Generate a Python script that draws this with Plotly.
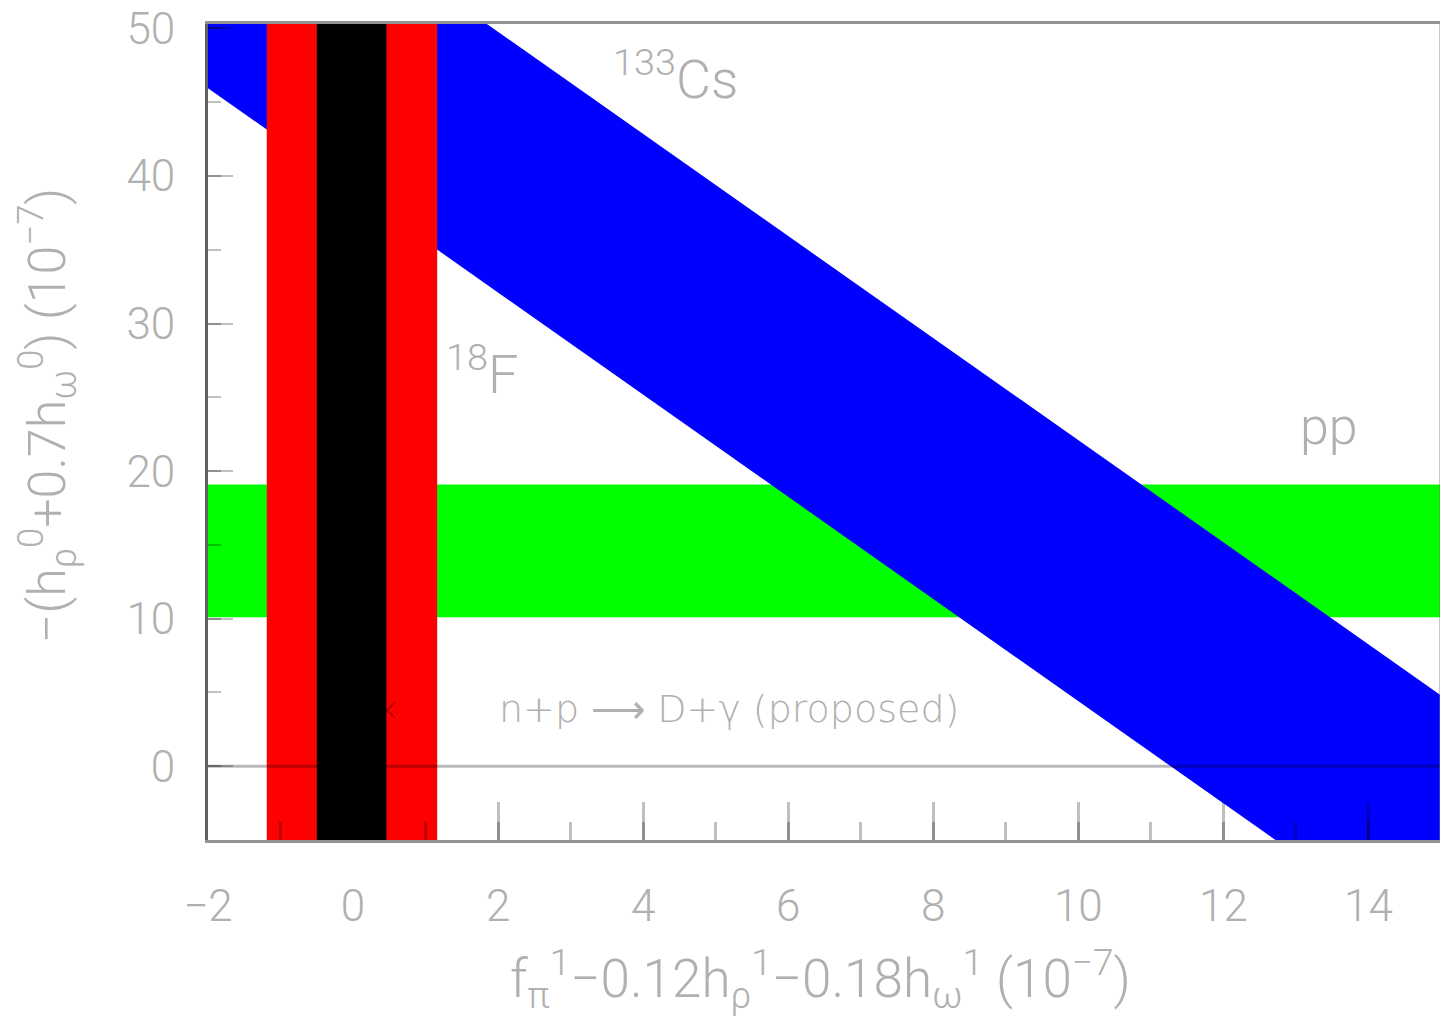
import plotly.graph_objects as go

# ---- data ----
x_range = [-2, 15]
y_range = [-5, 50.3]

# 133Cs band: two parallel lines, evaluated at the x-range ends
cs_x = [-2, 15]
cs_upper = [63.6, 4.8]
cs_lower = [45.95, -12.9]

# pp band (horizontal)
pp_low, pp_high = 10.1, 19.1

# 18F band (vertical) : outer (red) and inner (black)
f18_outer = [-1.19, 1.16]
f18_inner = [-0.50, 0.46]

# proposed n+p -> D+gamma marker
np_point_x = [0.47]
np_point_y = [3.8]

zero_y = 0

x_tick_vals = [-2, 0, 2, 4, 6, 8, 10, 12, 14]
y_tick_vals = [0, 10, 20, 30, 40, 50]

labels = [
    dict(text="<sup>133</sup>Cs", x=4.45, y=46.8, size=54, font="Roboto"),
    dict(text="<sup>18</sup>F", x=1.78, y=26.8, size=54, font="Roboto"),
    dict(text="pp", x=13.45, y=23.0, size=52, font="Roboto"),
    dict(text="n+p \u27f6 D+\u03b3 (proposed)", x=5.18, y=3.9, size=38, font="DejaVu Sans"),
]

TXT = "#b0b0b0"
FONT = "Roboto"

fig = go.Figure()

# green pp band
fig.add_trace(go.Scatter(
    x=[x_range[0], x_range[1], x_range[1], x_range[0]],
    y=[pp_low, pp_low, pp_high, pp_high],
    fill="toself", fillcolor="#00ff00", line=dict(width=0), mode="lines",
    hoverinfo="skip", showlegend=False))

# blue Cs band
fig.add_trace(go.Scatter(
    x=cs_x + cs_x[::-1],
    y=cs_upper + cs_lower[::-1],
    fill="toself", fillcolor="#0000ff", line=dict(width=0), mode="lines",
    hoverinfo="skip", showlegend=False))

# red outer 18F band
fig.add_trace(go.Scatter(
    x=[f18_outer[0], f18_outer[1], f18_outer[1], f18_outer[0]],
    y=[-100, -100, 200, 200],
    fill="toself", fillcolor="#ff0000", line=dict(width=0), mode="lines",
    hoverinfo="skip", showlegend=False))

# proposed point (partly hidden under black band)
fig.add_trace(go.Scatter(
    x=np_point_x, y=np_point_y, mode="markers",
    marker=dict(symbol="x-thin", size=16, line=dict(width=2, color="rgba(0,0,0,0.3)")),
    hoverinfo="skip", showlegend=False))

# black inner band
fig.add_trace(go.Scatter(
    x=[f18_inner[0], f18_inner[1], f18_inner[1], f18_inner[0]],
    y=[-100, -100, 200, 200],
    fill="toself", fillcolor="#000000", line=dict(width=0), mode="lines",
    hoverinfo="skip", showlegend=False))

# zero line
fig.add_trace(go.Scatter(
    x=x_range, y=[zero_y, zero_y], mode="lines",
    line=dict(color="rgba(0,0,0,0.27)", width=3),
    hoverinfo="skip", showlegend=False))

for lb in labels:
    fig.add_annotation(x=lb["x"], y=lb["y"], xref="x", yref="y", text=lb["text"],
                       showarrow=False, font=dict(family=lb["font"], size=lb["size"], color=TXT, weight=300))

# axis titles
fig.add_annotation(
    text="f<sub>\u03c0</sub><sup>1</sup>\u22120.12h<sub>\u03c1</sub><sup>1</sup>\u22120.18h<sub>\u03c9</sub><sup>1</sup> (10<sup>\u22127</sup>)",
    x=0.497, y=-0.170, xref="paper", yref="paper", xanchor="center", yanchor="middle",
    showarrow=False, font=dict(family=FONT, size=53, color=TXT, weight=300))
fig.add_annotation(
    text="\u2212(h<sub>\u03c1</sub><sup>0</sup>+0.7h<sub>\u03c9</sub><sup>0</sup>) (10<sup>\u22127</sup>)",
    x=-0.131, y=0.52, xref="paper", yref="paper", xanchor="center", yanchor="middle",
    textangle=-90, showarrow=False, font=dict(family=FONT, size=52, color=TXT, weight=300))

# right border
fig.add_shape(type="line", xref="paper", yref="paper", x0=1, x1=1, y0=0, y1=1,
              line=dict(color="rgba(120,120,120,0.8)", width=3), layer="above")

fig.update_xaxes(
    range=x_range, showgrid=False, zeroline=False,
    showline=True, linecolor="rgba(120,120,120,0.8)", linewidth=3, mirror=True,
    tickmode="array", tickvals=x_tick_vals, ticktext=[("\u2212" + str(-v)) if v < 0 else str(v) for v in x_tick_vals],
    ticks="inside", ticklen=38, tickwidth=3, tickcolor="rgba(0,0,0,0.25)",
    minor=dict(dtick=1, tick0=0, ticks="inside", ticklen=18, tickwidth=3, tickcolor="rgba(0,0,0,0.25)"),
    tickfont=dict(family=FONT, size=44, color=TXT, weight=300), ticklabelstandoff=25,
    ticklabeloverflow="allow")

fig.update_yaxes(
    range=y_range, showgrid=False, zeroline=False,
    showline=True, linecolor="rgba(70,70,70,0.85)", linewidth=3, mirror=False,
    tickmode="array", tickvals=y_tick_vals,
    ticks="inside", ticklen=25, tickwidth=2, tickcolor="rgba(0,0,0,0.25)",
    minor=dict(dtick=5, tick0=0, ticks="inside", ticklen=13, tickwidth=2, tickcolor="rgba(0,0,0,0.25)"),
    tickfont=dict(family=FONT, size=44, color=TXT, weight=300), ticklabelstandoff=21,
    ticklabeloverflow="allow")

# page body has an 8px margin: size the figure so the plot area lands where the reference has it
fig.update_layout(
    width=1440, height=1010,
    margin=dict(l=200, r=7, t=16, b=178, autoexpand=False),
    plot_bgcolor="white", paper_bgcolor="white",
    showlegend=False)

fig.write_html("out.html")
